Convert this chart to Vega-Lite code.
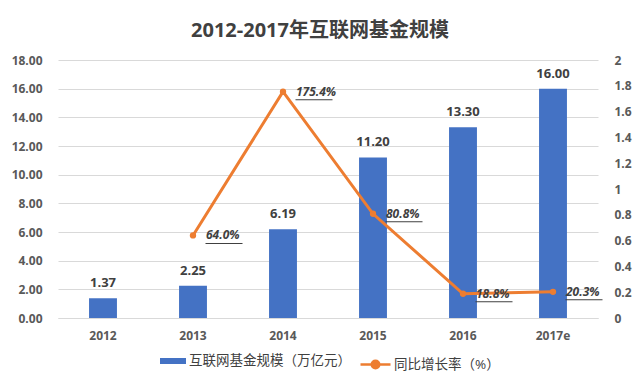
{
  "$schema": "https://vega.github.io/schema/vega-lite/v6.json",
  "width": 540,
  "height": 258,
  "autosize": "none",
  "padding": {"left": 58, "top": 60, "right": 42, "bottom": 66},
  "background": "white",
  "config": {
    "font": "Open Sans, Noto Sans CJK SC",
    "view": {"stroke": null},
    "axis": {"labelOverlap": false}
  },
  "title": {
    "text": "2012-2017年互联网基金规模",
    "font": "Open Sans, Noto Sans CJK SC",
    "fontSize": 20,
    "fontWeight": "bold",
    "color": "#404040",
    "anchor": "middle",
    "offset": 13,
    "dx": -8
  },
  "data": {
    "values": [
      {"year": "2012", "scale": 1.37, "growth": null},
      {"year": "2013", "scale": 2.25, "growth": 0.640},
      {"year": "2014", "scale": 6.19, "growth": 1.754},
      {"year": "2015", "scale": 11.20, "growth": 0.808},
      {"year": "2016", "scale": 13.30, "growth": 0.188},
      {"year": "2017e", "scale": 16.00, "growth": 0.203}
    ]
  },
  "encoding": {
    "x": {
      "field": "year",
      "type": "ordinal",
      "sort": null,
      "scale": {"paddingInner": 0.69, "paddingOuter": 0.345},
      "axis": {
        "title": null,
        "labelAngle": 0,
        "ticks": false,
        "domain": true,
        "domainColor": "#d9d9d9",
        "labelPadding": 12,
        "labelFontSize": 12,
        "labelFontWeight": "bold",
        "labelColor": "#595959"
      }
    }
  },
  "layer": [
    {
      "encoding": {
        "y": {
          "field": "scale",
          "type": "quantitative",
          "scale": {"domain": [0, 18], "nice": false},
          "axis": {
            "title": null,
            "orient": "left",
            "values": [0, 2, 4, 6, 8, 10, 12, 14, 16, 18],
            "tickCount": 10,
            "format": ".2f",
            "labelOverlap": false,
            "labelBound": false,
            "ticks": false,
            "domain": false,
            "grid": true,
            "gridColor": "#d9d9d9",
            "labelPadding": 16,
            "labelFontSize": 12,
            "labelFontWeight": "bold",
            "labelColor": "#595959"
          }
        }
      },
      "layer": [
        {
          "mark": {"type": "bar", "color": "#4472C4"},
          "encoding": {
            "fill": {
              "datum": "互联网基金规模（万亿元）",
              "type": "nominal",
              "scale": {"range": ["#4472C4"]},
              "legend": {
                "title": null,
                "orient": "none",
                "legendX": 102,
                "legendY": 288,
                "padding": 0,
                "symbolType": "M-1,-0.23H1V0.23H-1Z",
                "symbolSize": 676,
                "symbolStrokeWidth": 0,
                "labelFontSize": 13.5,
                "labelLimit": 400,
                "labelColor": "#404040",
                "labelOffset": 3
              }
            }
          }
        },
        {
          "mark": {
            "type": "text",
            "baseline": "alphabetic",
            "dy": -11,
            "fontSize": 13,
            "fontWeight": "bold",
            "color": "#404040"
          },
          "encoding": {
            "text": {"field": "scale", "type": "quantitative", "format": ".2f"}
          }
        }
      ]
    },
    {
      "transform": [{"filter": "datum.growth != null"}],
      "encoding": {
        "y": {
          "field": "growth",
          "type": "quantitative",
          "scale": {"domain": [0, 2], "nice": false},
          "axis": {
            "title": null,
            "orient": "right",
            "values": [0, 0.2, 0.4, 0.6, 0.8, 1, 1.2, 1.4, 1.6, 1.8, 2],
            "format": "~g",
            "labelOverlap": false,
            "labelBound": false,
            "ticks": false,
            "domain": false,
            "grid": false,
            "labelPadding": 16,
            "labelFontSize": 12,
            "labelFontWeight": "bold",
            "labelColor": "#595959"
          }
        }
      },
      "layer": [
        {
          "mark": {"type": "line", "strokeWidth": 3},
          "encoding": {
            "stroke": {
              "datum": "同比增长率（%）",
              "type": "nominal",
              "scale": {"range": ["#ED7D31"]},
              "legend": {
                "title": null,
                "orient": "none",
                "legendX": 301,
                "legendY": 288,
                "padding": 0,
                "symbolType": "M-1,0H1M0.25,0A0.25,0.25,0,1,1,-0.25,0A0.25,0.25,0,1,1,0.25,0Z",
                "symbolSize": 900,
                "symbolStrokeWidth": 2.5,
                "symbolFillColor": "#ED7D31",
                "labelFontSize": 13.5,
                "labelLimit": 400,
                "labelColor": "#404040",
                "labelOffset": 2,
                "encode": {"symbols": {"update": {"fill": {"value": "#ED7D31"}}}}
              }
            }
          }
        },
        {
          "mark": {"type": "point", "filled": true, "size": 40, "color": "#ED7D31", "opacity": 1}
        },
        {
          "mark": {
            "type": "text",
            "align": "left",
            "baseline": "middle",
            "dx": 13,
            "fontSize": 12,
            "fontWeight": "bold",
            "fontStyle": "italic",
            "color": "#404040"
          },
          "encoding": {
            "text": {"field": "growth", "type": "quantitative", "format": ".1%"}
          }
        },
        {
          "mark": {"type": "tick", "orient": "horizontal", "color": "#404040", "thickness": 1, "size": 37, "xOffset": 31, "yOffset": 8, "opacity": 1}
        }
      ]
    }
  ],
  "resolve": {"scale": {"y": "independent"}}
}
